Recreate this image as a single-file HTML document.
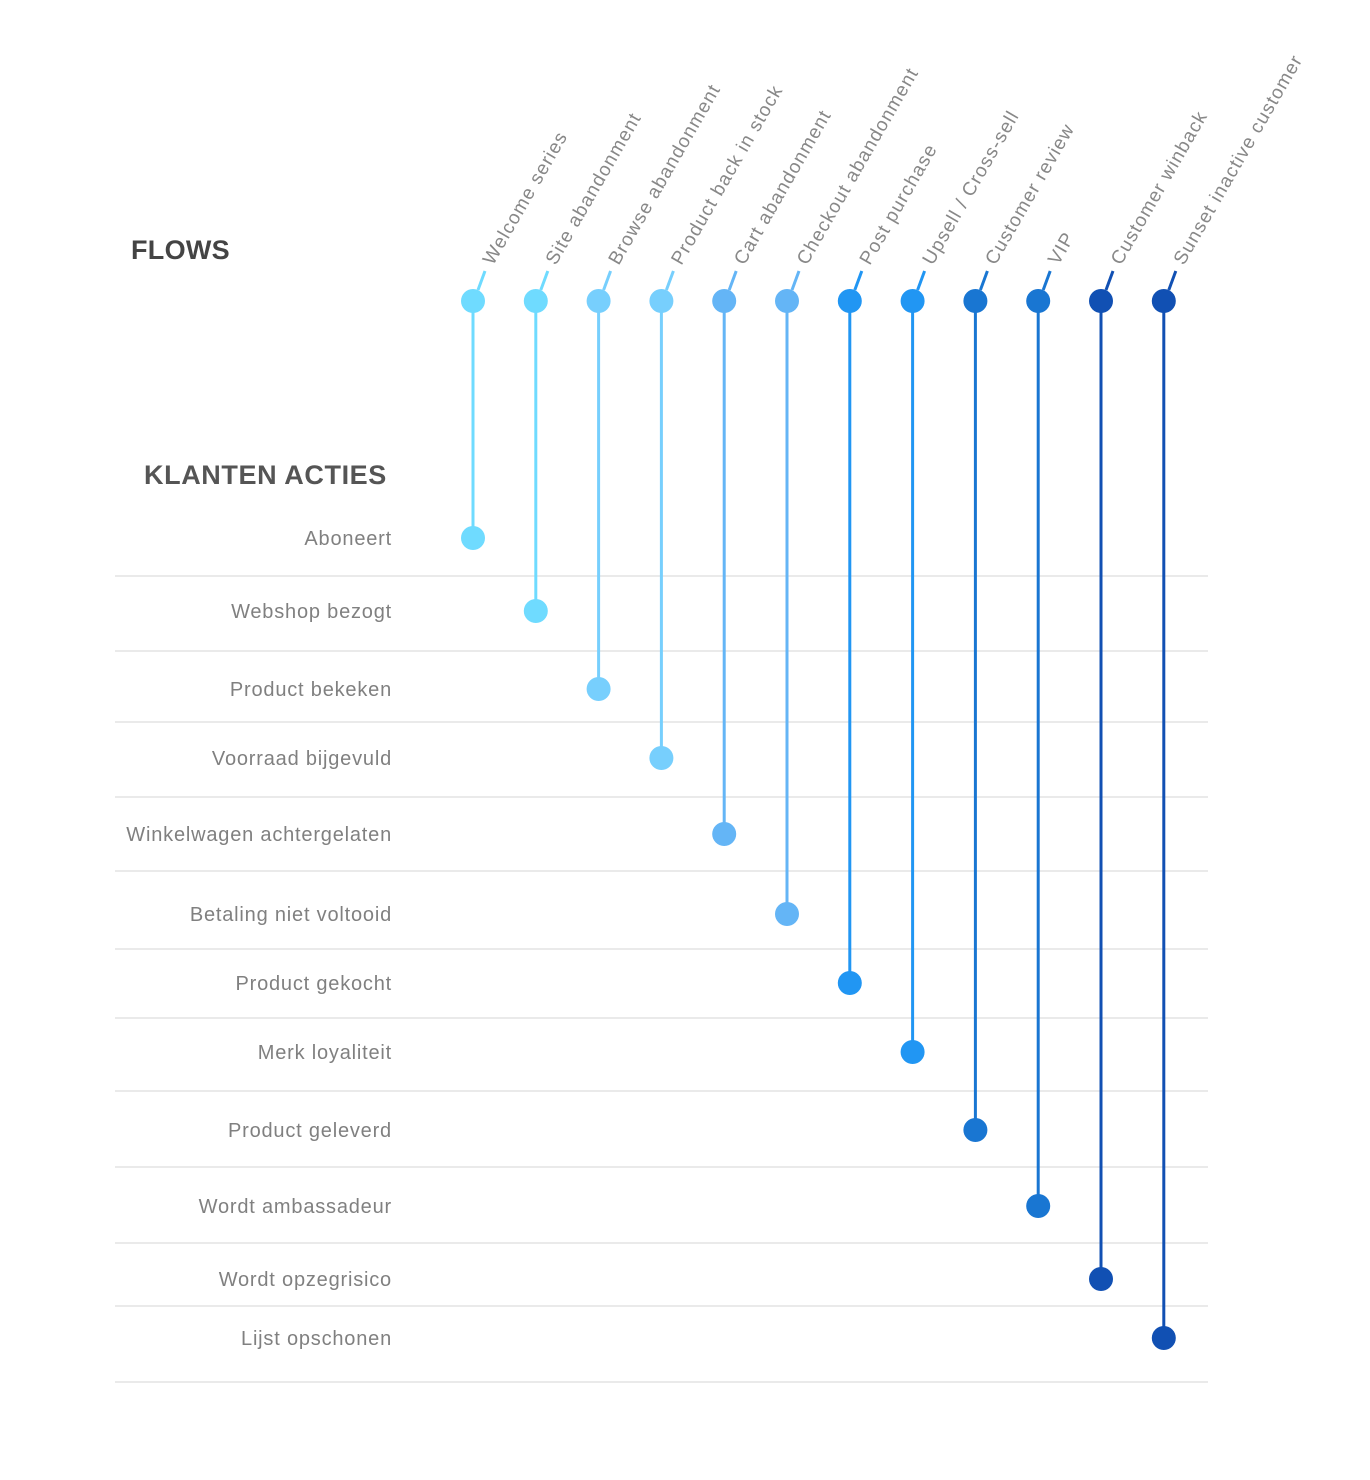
<!DOCTYPE html>
<html><head><meta charset="utf-8"><style>
html,body{margin:0;padding:0;background:#fff;}
svg{display:block;font-family:"Liberation Sans",sans-serif;}
</style></head><body>
<svg id="chart" width="1370" height="1480" viewBox="0 0 1370 1480" xmlns="http://www.w3.org/2000/svg">
<text x="131" y="259" font-size="27" font-weight="bold" fill="#444" letter-spacing="0.3">FLOWS</text>
<text x="144" y="484" font-size="27" font-weight="bold" fill="#555" letter-spacing="0.6">KLANTEN ACTIES</text>
<g id="grid"></g><g id="marks"></g>
</svg>
<script>
const flows=["Welcome series","Site abandonment","Browse abandonment","Product back in stock","Cart abandonment","Checkout abandonment","Post purchase","Upsell / Cross-sell","Customer review","VIP","Customer winback","Sunset inactive customer"];
const actions=["Aboneert","Webshop bezogt","Product bekeken","Voorraad bijgevuld","Winkelwagen achtergelaten","Betaling niet voltooid","Product gekocht","Merk loyaliteit","Product geleverd","Wordt ambassadeur","Wordt opzegrisico","Lijst opschonen"];
const flowAction=[0,1,2,3,4,5,6,7,8,9,10,11];
const colors=["#6fdbff","#6fdbff","#77cffd","#77cffd","#64b5f6","#64b5f6","#2196f3","#2196f3","#1976d2","#1976d2","#1150b3","#1150b3"];
const NS="http://www.w3.org/2000/svg";
const rowY=[538,611,689,758,834,914,983,1052,1130,1206,1279,1338];
const sepY=[576,651,722,797,871,949,1018,1091,1167,1243,1306,1382];
function xPos(i){return 473+i*62.8;}
function yPos(r){return rowY[r];}
function mk(t,a,p){const e=document.createElementNS(NS,t);for(const k in a)e.setAttribute(k,a[k]);p.appendChild(e);return e;}
const grid=document.getElementById('grid'),marks=document.getElementById('marks');
actions.forEach((a,r)=>{
  const l=mk('line',{x1:115,x2:1208,y1:sepY[r],y2:sepY[r],stroke:'#ddd','stroke-width':1.2},grid);
  
  
  const t=mk('text',{x:392,y:yPos(r)+7,'text-anchor':'end','font-size':20,'letter-spacing':0.8,fill:'#808080'},grid);
  t.textContent=a;
  
  
});
flows.forEach((f,i)=>{
  const x=xPos(i),c=colors[i],y=yPos(flowAction[i]);
  const ln=mk('line',{x1:x,x2:x,y1:301,y2:y,stroke:c,'stroke-width':3},marks);
  
  
  const tk=mk('line',{x1:x+5,y1:290,x2:x+12,y2:271,stroke:c,'stroke-width':3},marks);
  
  
  const d1=mk('circle',{cx:x,cy:301,r:12,fill:c},marks);
  
  
  const d2=mk('circle',{cx:x,cy:y,r:12,fill:c},marks);
  
  
  const t=mk('text',{x:0,y:0,'font-size':19,'letter-spacing':1.1,fill:'#888',transform:`translate(${x+20},${266}) rotate(-60)`},marks);
  t.textContent=f;
  
  
});
</script>
</body></html>
